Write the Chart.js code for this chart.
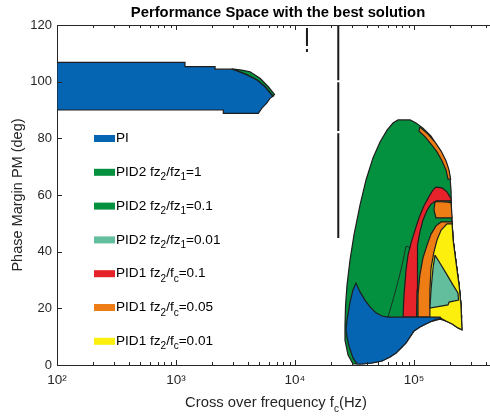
<!DOCTYPE html>
<html>
<head>
<meta charset="utf-8">
<script src="https://cdn.jsdelivr.net/npm/chart.js@4.4.0/dist/chart.umd.min.js"></script>
<style>
  html, body { margin: 0; padding: 0; background: #fff; }
  #wrap { width: 490px; height: 417px; }
</style>
</head>
<body>
<div id="wrap"><canvas id="chart" width="490" height="417"></canvas></div>
<script>
const FONT = '"Liberation Sans", Arial, Helvetica, sans-serif';
const INK = '#262626';

const BLUE = '#0565b3';
const GREEN = '#04913f';
const TEAL = '#62be9c';
const RED = '#e6222a';
const ORANGE = '#ef7d16';
const YELLOW = '#fcee0d';

// axes
const decades = [100, 1000, 10000, 100000];
const yTicks = [0, 20, 40, 60, 80, 100, 120];
const xMax = 435000;

// legend
const legendLabels = ['PI', 'PID2 fz_2/fz_1=1', 'PID2 fz_2/fz_1=0.1', 'PID2 fz_2/fz_1=0.01',
  'PID1 fz_2/f_c=0.1', 'PID1 fz_2/f_c=0.05', 'PID1 fz_2/f_c=0.01'];
const legendColors = [BLUE, GREEN, GREEN, TEAL, RED, ORANGE, YELLOW];

// feasible regions, [fc (Hz), PM (deg)]
const piLeft = [[100,106.8],[1190,106.8],[1190,105.3],[2130,105.3],[2130,104.4],[2955,104.4],
  [3255,103.8],[3950,102.4],[4794,100.6],[5597,98.2],[6373,95.3],[6534,94.9],[6166,94.1],
  [5783,92.4],[5251,90.6],[4917,88.8],[2497,88.8],[2497,90.0],[100,90.0]];
const pid2LeftEdge = [[2938,104.5],[3566,104.1],[4185,103.5],[5081,101.2],[5966,98.2],[6726,95.5],
  [6534,94.9],[5597,98.2],[4794,100.6],[3950,102.4],[3255,103.8],[2955,104.4]];

const pid2Outer = [[30700,0.35],[27900,3.5],[26300,8.8],[26300,14.1],[26600,21.2],[27350,28.2],
  [29000,37.1],[31300,45.9],[35200,56.5],[39500,65.3],[45200,73.1],[51800,78.7],[59300,82.9],
  [66600,85.4],[73400,86.5],[92600,86.5],[104000,85.4],[119000,83.6],[139000,80.8],[159000,76.9],
  [179000,73.1],[193000,69.5],[201000,66.0],[205000,61.1],[205000,54.7],[213000,44.1],[225000,36.4],
  [239000,28.2],[248000,21.2],[253000,12.4],[234000,13.1],[209000,14.5],[186000,15.5],[165500,16.2],
  [136000,15.2],[112000,13.4],[100000,12.0],[92600,9.9],[85700,7.8],[77800,6.0],[70600,4.2],
  [62800,2.8],[53800,1.4],[44400,0.7],[36600,0.35]];
const pid1EdgeSliver = [[112000,84.0],[131000,81.5],[150000,78.7],[169000,75.5],[186000,72.0],
  [197000,68.8],[203000,65.6],[193000,65.6],[186000,68.8],[172000,72.0],[156000,75.2],
  [139000,78.0],[124000,80.5],[110000,82.6]];
const pid1Red = [[80800,16.9],[82400,24.7],[85700,33.5],[89000,38.8],[94400,43.1],[102000,47.6],
  [110000,51.9],[121000,56.1],[134000,59.6],[144500,61.8],[153000,62.8],[172000,62.5],[189500,61.1],
  [205000,58.6],[205000,54.7],[213000,44.1],[225000,36.4],[239000,28.2],[248000,21.2],[251000,16.9]];
const pid2Inner = [[105000,16.9],[106000,26.5],[106000,37.1],[108000,42.4],[112000,46.9],
  [119000,51.2],[129000,54.7],[139000,56.8],[153000,57.9],[205000,57.9],[205000,54.7],[213000,44.1],
  [225000,36.4],[239000,28.2],[248000,21.2],[251000,16.9]];
const pid1OrangeCap = [[150000,57.5],[156000,57.7],[193000,57.5],[205000,57.2],[209000,51.9],
  [153000,51.9],[147000,54.7]];
const pid1Orange = [[106000,16.9],[108000,24.7],[112000,31.8],[119000,37.8],[129000,42.4],
  [139000,46.2],[153000,49.1],[169000,50.5],[209000,50.5],[213000,44.1],[225000,36.4],[239000,28.2],
  [248000,21.2],[251000,16.9]];
const pid1Yellow = [[136000,16.9],[136000,26.5],[139000,34.2],[147000,39.9],[156000,44.1],
  [169000,47.6],[189500,49.8],[209000,49.8],[213000,44.1],[225000,36.4],[239000,28.2],[248000,21.2],
  [253000,12.4],[234000,13.1],[209000,14.5],[186000,15.5],[165500,16.6],[136000,16.6]];
const pid2Teal = [[150000,38.8],[169000,35.3],[189500,31.8],[213000,28.2],[234000,25.4],
  [237000,22.9],[197000,22.2],[193000,21.2],[136000,20.1],[139000,26.5],[144500,34.2]];
const piRight = [[26800,12.4],[27350,15.9],[29000,22.2],[30700,26.5],[32500,28.9],[35200,25.8],
  [38700,22.9],[42700,20.5],[47900,18.4],[53800,17.3],[60500,16.9],[165500,16.9],[169000,16.4],
  [153000,16.1],[136000,15.2],[112000,13.4],[100000,12.0],[92600,9.9],[85700,7.8],[77800,6.0],
  [70600,4.2],[62800,2.8],[53800,1.4],[44400,0.7],[36600,0.35],[33200,0.35],[30700,2.5],
  [28400,6.7],[27350,9.9]];

// boundary lines
const pid2Seam = [[60500,16.9],[69200,25.4],[78800,34.6],[85700,42.0],[94400,41.3]];
const contourA = [[[23100,120],[23100,100.5]], [[23100,99.8],[23100,82.6]], [[23100,81.8],[23100,44.8]]];
const contourB = [[[12600,118.9],[12600,112.6]], [[12600,111.5],[12600,110.5]]];

// bottom to top
const regions = [
  [pid2Outer, GREEN], [pid1EdgeSliver, ORANGE], [pid1Red, RED], [pid2Inner, GREEN],
  [pid1OrangeCap, ORANGE], [pid1Orange, ORANGE], [pid1Yellow, YELLOW], [pid2Teal, TEAL],
  [piRight, BLUE], [pid2LeftEdge, GREEN], [piLeft, BLUE]
];
const lines = [[pid2Seam, 0.8], ...contourA.map(c => [c, 2]), ...contourB.map(c => [c, 2])];

const toXY = pts => pts.map(([x, y]) => ({ x, y }));

const datasets = [];
regions.forEach(([pts, color]) => {
  datasets.push({
    data: toXY([...pts, pts[0]]),
    backgroundColor: color,
    borderColor: '#1e1e1e',
    borderWidth: 1.2,
    fill: 'shape',
    pointRadius: 0,
    tension: 0
  });
});
lines.forEach(([pts, w]) => {
  datasets.push({
    data: toXY(pts),
    borderColor: '#1a1a1a',
    borderWidth: w,
    fill: false,
    pointRadius: 0
  });
});
datasets.forEach((d, i) => { d.order = datasets.length - i; });

const sup = { 2: '\u00b2', 3: '\u00b3', 4: '\u2074', 5: '\u2075' };

// tick marks 1..9 x 10^n inside the range
const logTicks = [];
decades.forEach(d => { for (let k = 1; k <= 9; k++) if (d * k <= xMax) logTicks.push(d * k); });

const drawRich = (ctx, text, x, y, size, align, weight) => {
  const parts = text.split(/_(.)/);
  const sub = Math.round(size * 0.7);
  const fontFor = i => `${weight || ''} ${i % 2 ? sub : size}px ${FONT}`;
  let w = 0;
  parts.forEach((p, i) => { ctx.font = fontFor(i); w += ctx.measureText(p).width; });
  let cx = align === 'center' ? x - w / 2 : x;
  ctx.textAlign = 'left';
  ctx.textBaseline = 'middle';
  parts.forEach((p, i) => {
    ctx.font = fontFor(i);
    ctx.fillText(p, cx, i % 2 ? y + size * 0.4 : y);
    cx += ctx.measureText(p).width;
  });
};

const decorations = {
  id: 'decorations',
  afterDraw(chart) {
    const { ctx, chartArea: a, scales: { x, y } } = chart;
    ctx.save();
    ctx.strokeStyle = INK;
    ctx.lineWidth = 1;
    // top box edge
    ctx.beginPath();
    ctx.moveTo(a.left, a.top + 0.5);
    ctx.lineTo(a.right, a.top + 0.5);
    ctx.stroke();
    // inward tick marks
    ctx.beginPath();
    logTicks.forEach(v => {
      const px = Math.round(x.getPixelForValue(v)) + 0.5;
      const len = decades.includes(v) ? 5 : 3;
      ctx.moveTo(px, a.bottom); ctx.lineTo(px, a.bottom - len);
      ctx.moveTo(px, a.top); ctx.lineTo(px, a.top + len);
    });
    y.ticks.forEach(t => {
      const py = Math.round(y.getPixelForValue(t.value)) + 0.5;
      ctx.moveTo(a.left, py); ctx.lineTo(a.left + 5, py);
    });
    ctx.stroke();

    // title and x label
    ctx.fillStyle = '#000';
    drawRich(ctx, 'Performance Space with the best solution', 278, 13, 14.8, 'center', 'bold');
    ctx.fillStyle = INK;
    drawRich(ctx, 'Cross over frequency f_c(Hz)', 276, 403, 14.8, 'center');

    // legend
    legendLabels.forEach((label, i) => {
      const cy = 138.5 + i * 33.8;
      ctx.fillStyle = legendColors[i];
      ctx.fillRect(94, cy - 3.5, 21, 7);
      ctx.fillStyle = '#000';
      drawRich(ctx, label, 116, cy, 13.6, 'left');
    });
    ctx.restore();
  }
};

new Chart(document.getElementById('chart'), {
  type: 'line',
  data: { datasets },
  options: {
    responsive: false,
    animation: false,
    layout: { padding: { top: 25, right: 0, bottom: 0, left: 0 } },
    plugins: { legend: { display: false }, tooltip: { enabled: false } },
    scales: {
      x: {
        type: 'logarithmic',
        bounds: 'data',
        min: 100,
        max: xMax,
        afterBuildTicks: s => { s.ticks = decades.map(v => ({ value: v })); },
        afterFit: s => { s.height = 52; },
        ticks: {
          autoSkip: false,
          maxRotation: 0,
          padding: 7,
          color: INK,
          font: { family: FONT, size: 13.5 },
          callback: v => '10' + sup[Math.round(Math.log10(v))]
        },
        grid: { display: false, drawTicks: false },
        border: { display: true, color: INK, width: 1 }
      },
      y: {
        min: 0,
        max: 120,
        afterBuildTicks: s => { s.ticks = yTicks.map(v => ({ value: v })); },
        afterFit: s => { s.width = 57; },
        ticks: { padding: 5, color: INK, font: { family: FONT, size: 13 } },
        grid: { display: false, drawTicks: false },
        border: { display: true, color: INK, width: 1 },
        title: {
          display: true,
          text: 'Phase Margin PM (deg)',
          color: INK,
          font: { family: FONT, size: 14.5 },
          padding: { top: 9, bottom: 0 }
        }
      }
    }
  },
  plugins: [decorations]
});
</script>
</body>
</html>
